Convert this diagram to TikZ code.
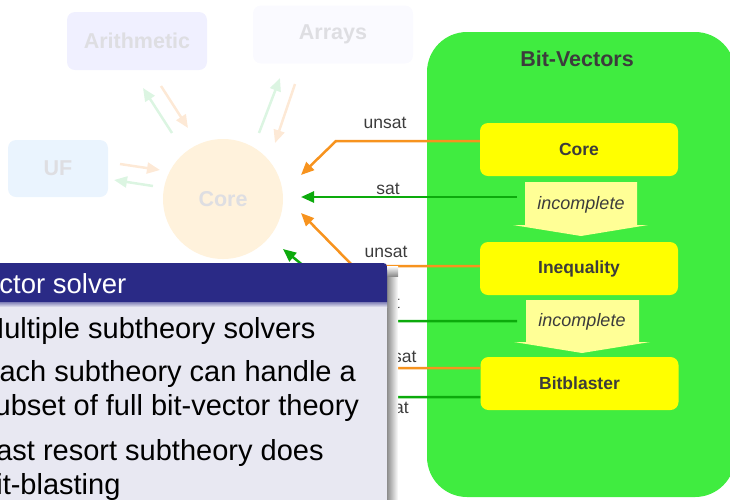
\documentclass[tikz,border=0pt]{standalone}
\usepackage{fontspec}
\setmainfont{Liberation Sans}
\usetikzlibrary{arrows.meta,calc}

\definecolor{bvgreen}{RGB}{64,236,64}
\definecolor{subyellow}{RGB}{255,255,0}
\definecolor{incfill}{RGB}{255,255,150}
\definecolor{darktext}{RGB}{60,60,60}
\definecolor{arrorange}{RGB}{247,147,30}
\definecolor{arrgreen}{RGB}{12,170,12}
\definecolor{arithfill}{RGB}{240,240,255}
\definecolor{arrayfill}{RGB}{250,250,255}
\definecolor{uffill}{RGB}{234,244,254}
\definecolor{corefill}{RGB}{255,242,220}
\definecolor{fadedtext}{RGB}{222,222,226}
\definecolor{fadedgreen}{RGB}{220,245,226}
\definecolor{fadedorange}{RGB}{253,233,214}
\definecolor{blocktitle}{RGB}{42,42,134}
\definecolor{blockbody}{RGB}{232,232,242}

\tikzset{
  fadedbox/.style={rounded corners=8pt, inner sep=0pt, minimum height=58pt,
    font=\fontsize{21.5}{24}\selectfont\bfseries, text=fadedtext},
  subbox/.style={fill=subyellow, rounded corners=8pt, minimum width=198pt,
    minimum height=53pt, inner sep=0pt,
    font=\fontsize{17.5}{20}\selectfont\bfseries, text=darktext},
  lbl/.style={font=\fontsize{17.5}{20}\selectfont, text=darktext,
    inner sep=0pt, anchor=base},
  inctext/.style={font=\fontsize{18}{20}\selectfont\itshape, text=darktext,
    inner sep=0pt},
  orangearrow/.style={draw=arrorange, line width=2.5pt,
    -{Triangle[length=13pt,width=11pt]}},
  greenarrow/.style={draw=arrgreen, line width=2.5pt,
    -{Triangle[length=13pt,width=11pt]}},
  fadedgreenarrow/.style={draw=fadedgreen, line width=2.5pt,
    -{Triangle[length=13pt,width=11pt]}},
  fadedorangearrow/.style={draw=fadedorange, line width=2.5pt,
    -{Triangle[length=13pt,width=11pt]}},
  blocktxt/.style={font=\fontsize{29}{34}\selectfont, text=black,
    inner sep=0pt, anchor=base west},
}

\begin{document}
\begin{tikzpicture}[x=1pt,y=-1pt]
\useasboundingbox (0,0) rectangle (730,499);
\clip (0,0) rectangle (730,499);

% ---------- theory combination in the background ----------
\node[fadedbox, fill=arithfill, minimum width=140pt] (arith) at (137,41) {Arithmetic};
\node[fadedbox, fill=arrayfill, minimum width=160pt] (arrays) at (333,34.5) {Arrays};
\node[fadedbox, fill=uffill, minimum width=100pt, minimum height=57pt] (uf) at (58,168.5) {UF};
\node[circle, fill=corefill, minimum size=120pt, inner sep=0pt,
      font=\fontsize{21.5}{24}\selectfont\bfseries, text=fadedtext] (ccore) at (223,199) {Core};

\coordinate (ag1) at (172,133); \coordinate (ag2) at (143,88);
\coordinate (ao1) at (161,86);  \coordinate (ao2) at (188,128);
\coordinate (rg1) at (259,133); \coordinate (rg2) at (280,78);
\coordinate (ro1) at (295,84);  \coordinate (ro2) at (275,143);
\coordinate (uo1) at (120,164); \coordinate (uo2) at (160,170);
\coordinate (ug1) at (153,186); \coordinate (ug2) at (114,180);
\draw[fadedgreenarrow] (ag1) -- (ag2);
\draw[fadedorangearrow] (ao1) -- (ao2);
\draw[fadedgreenarrow] (rg1) -- (rg2);
\draw[fadedorangearrow] (ro1) -- (ro2);
\draw[fadedorangearrow] (uo1) -- (uo2);
\draw[fadedgreenarrow] (ug1) -- (ug2);

% ---------- bit-vector solver ----------
\fill[bvgreen, rounded corners=40pt] (427,32) rectangle (735,497);
\node[font=\fontsize{21.5}{24}\selectfont\bfseries, text=darktext, inner sep=0pt]
  (bvtitle) at (577,59) {Bit-Vectors};

\node[subbox] (core) at (579,149.5) {Core};
\node[subbox] (ineq) at (579,268.5) {Inequality};
\node[subbox] (bitbl) at (579.5,383.5) {Bitblaster};

\fill[incfill] (525,182) -- (637,182) -- (637,225) -- (648,225) -- (581,236)
  -- (513,225) -- (525,225) -- cycle;
\node[inctext] (inc1) at (581,205) {incomplete};
\fill[incfill] (526,300) -- (639,300) -- (639,342) -- (650,342) -- (582,353)
  -- (514,342) -- (526,342) -- cycle;
\node[inctext] (inc2) at (582,322) {incomplete};

% ---------- results reported to the core ----------
\coordinate (t1) at (301,175);
\coordinate (t2) at (301,197);
\coordinate (t3) at (301,213);
\coordinate (t4) at (283,249);
\coordinate (t5) at (300,300);
\coordinate (t6) at (290,330);
\coordinate (b1) at (336,141);
\coordinate (b3) at (353,266);
\coordinate (b4) at (371,321);
\coordinate (b5) at (360,368);
\coordinate (b6) at (360,397);
\coordinate (s1) at (517,197);
\coordinate (s2) at (517,321);

\draw[orangearrow] ([yshift=8.5pt]core.west) -- (b1) -- (t1);
\draw[greenarrow] (s1) -- (t2);
\draw[orangearrow] ([yshift=2.5pt]ineq.west) -- (b3) -- (t3);
\draw[greenarrow] (s2) -- (b4) -- (t4);
\draw[orangearrow] ([yshift=15.5pt]bitbl.west) -- (b5) -- (t5);
\draw[greenarrow] ([yshift=-13.5pt]bitbl.west) -- (b6) -- (t6);

\node[lbl] (l1) at (385,128) {unsat};
\node[lbl] (l2) at (388,194) {sat};
\node[lbl] (l3) at (386,257) {unsat};
\node[lbl] (l4) at (388,308) {sat};
\node[lbl] (l5) at (395,362) {unsat};
\node[lbl] (l6) at (397,413) {sat};

% ---------- slide block on top ----------
\shade[left color=black!45, right color=white] (387,276) rectangle (398,499);
\shade[top color=white, bottom color=black!45] (387,266) rectangle (398,276);
\fill[blocktitle] (-100,302) -- (-100,263) -- (379,263)
  .. controls (387,263) .. (387,271) -- (387,302) -- cycle;
\fill[blockbody] (-100,302) rectangle (387,520);
\shade[top color=blocktitle!55!blockbody, bottom color=blockbody] (-100,302) rectangle (387,307);

\node[font=\fontsize{27.5}{32}\selectfont, text=white, inner sep=0pt, anchor=base west]
  (btitle) at (-71,293) {Bit-vector solver};
\node[blocktxt] (i1) at (-20,338) {Multiple subtheory solvers};
\node[blocktxt] (i2) at (-20,381) {Each subtheory can handle a};
\node[blocktxt] (i2b) at (-20,415) {subset of full bit-vector theory};
\node[blocktxt] (i3) at (-20,460) {Last resort subtheory does};
\node[blocktxt] (i3b) at (-20,494) {bit-blasting};
\end{tikzpicture}
\end{document}
